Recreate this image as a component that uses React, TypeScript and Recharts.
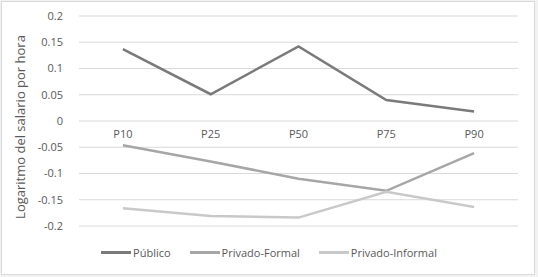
import { CartesianGrid, Line, LineChart, XAxis, YAxis } from "recharts";

const CATEGORIES = ["P10", "P25", "P50", "P75", "P90"];
const PUBLICO = [0.137, 0.051, 0.142, 0.04, 0.018];
const PRIVADO_FORMAL = [-0.046, -0.077, -0.11, -0.133, -0.061];
const PRIVADO_INFORMAL = [-0.166, -0.181, -0.184, -0.135, -0.164];
const Y_TICKS = [-0.2, -0.15, -0.1, -0.05, 0, 0.05, 0.1, 0.15, 0.2];

const SERIES = [
  { key: "publico", name: "Público", color: "#7a7a7a" },
  { key: "formal", name: "Privado-Formal", color: "#a6a6a6" },
  { key: "informal", name: "Privado-Informal", color: "#c9c9c9" },
];

const data = CATEGORIES.map((name, i) => ({
  name,
  publico: PUBLICO[i],
  formal: PRIVADO_FORMAL[i],
  informal: PRIVADO_INFORMAL[i],
}));

const FONT = "'Open Sans', sans-serif";

function CategoryTick({ x, y, payload }: any) {
  // Excel puts the category labels on the zero line, not at the bottom
  return (
    <text x={x} y={y} dy={-96} textAnchor="middle" fill="#595959" fontSize={11} fontFamily={FONT}>
      {payload.value}
    </text>
  );
}

function LegendRow() {
  return (
    <div
      style={{
        position: "absolute",
        left: 0,
        top: 245,
        width: 538,
        display: "flex",
        justifyContent: "center",
        fontFamily: FONT,
        fontSize: 11,
        color: "#595959",
      }}
    >
      {SERIES.map((s, i) => (
        <div key={s.key} style={{ display: "flex", alignItems: "center", marginLeft: i ? 19 : 0 }}>
          <span style={{ display: "inline-block", width: 30, height: 3, background: s.color, marginRight: 2 }} />
          <span>{s.name}</span>
        </div>
      ))}
    </div>
  );
}

export default function App() {
  return (
    <div
      style={{
        position: "fixed",
        left: 0,
        top: 0,
        width: 538,
        height: 277,
        background: "#f2f2f2",
      }}
    >
      <div
        style={{
          position: "absolute",
          left: 1,
          top: 1,
          width: 532,
          height: 272,
          background: "#fff",
          border: "1px solid #d9d9d9",
        }}
      />
      <div style={{ position: "absolute", left: 0, top: 0 }}>
        <LineChart width={538} height={277} data={data} margin={{ top: 16, right: 20, bottom: 0, left: 0 }}>
          <CartesianGrid horizontal vertical={false} stroke="#d9d9d9" />
          <XAxis
            dataKey="name"
            scale="band"
            axisLine={false}
            tickLine={false}
            tick={<CategoryTick />}
            height={51}
            interval={0}
          />
          <YAxis
            width={79}
            domain={[-0.2, 0.2]}
            ticks={Y_TICKS}
            axisLine={false}
            tickLine={false}
            tickMargin={10}
            tickFormatter={(v: number) => String(Math.round(v * 100) / 100)}
            tick={{ fill: "#595959", fontSize: 11, fontFamily: FONT }}
            label={{
              value: "Logaritmo del salario por hora",
              angle: -90,
              position: "center",
              dx: -19,
              dy: 6,
              fill: "#595959",
              fontSize: 13,
              fontFamily: FONT,
            }}
          />
          {SERIES.map((s) => (
            <Line
              key={s.key}
              type="linear"
              dataKey={s.key}
              name={s.name}
              stroke={s.color}
              strokeWidth={2.5}
              dot={false}
              activeDot={false}
              isAnimationActive={false}
            />
          ))}
        </LineChart>
      </div>
      <LegendRow />
    </div>
  );
}
